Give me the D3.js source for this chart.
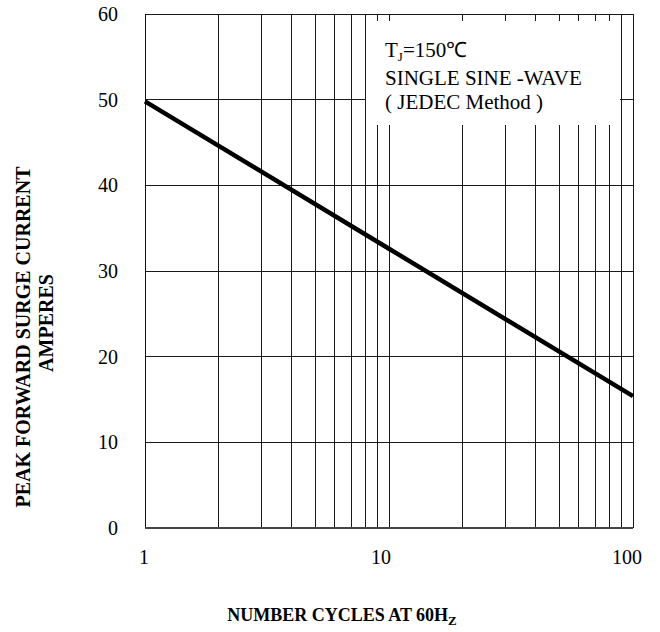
<!DOCTYPE html>
<html>
<head>
    <title>Peak forward surge current</title>
    <script src="https://cdn.jsdelivr.net/npm/d3@7"></script>
    <style>
        body { margin: 0; background: #fff; }
        text { font-family: "Liberation Serif", "Times New Roman", serif; fill: #000; }
    </style>
</head>
<body>
    <div id="chart"></div>
    <script type="text/javascript">
        // values
        var cycles = [1, 10, 100];
        var surgeAmps = [49.8, 32.6, 15.4];

        var yTicks = [0, 10, 20, 30, 40, 50, 60];
        var xLabels = [1, 10, 100];
        var legendLines = ["SINGLE SINE -WAVE", "( JEDEC Method )"];

        var width = 660;
        var height = 632;
        var margin = {top: 14, right: 27, bottom: 104, left: 145};
        var w = width - margin.left - margin.right;
        var h = height - margin.top - margin.bottom;

        var xScale = d3.scaleLog()
            .domain([1, 100])
            .range([0, w]);

        var yScale = d3.scaleLinear()
            .domain([0, 60])
            .range([h, 0]);

        var svg = d3.select("#chart").append("svg")
            .attr('width', width)
            .attr('height', height);

        var g = svg.append("g")
            .attr('transform', 'translate(' + margin.left + ',' + margin.top + ')');

        // vertical grid (log decades)
        g.append("g").selectAll("line")
            .data(xScale.ticks())
            .enter().append("line")
                .attr('x1', function(d) { return xScale(d); })
                .attr('x2', function(d) { return xScale(d); })
                .attr('y1', 0)
                .attr('y2', h)
                .attr('stroke', '#1a1a1a')
                .attr('stroke-width', 1)
                .attr('shape-rendering', 'crispEdges');

        // horizontal grid
        g.append("g").selectAll("line")
            .data(yTicks.slice(1))
            .enter().append("line")
                .attr('x1', 0)
                .attr('x2', w)
                .attr('y1', function(d) { return yScale(d); })
                .attr('y2', function(d) { return yScale(d); })
                .attr('stroke', '#1a1a1a')
                .attr('stroke-width', 1)
                .attr('shape-rendering', 'crispEdges');

        // axis lines
        g.append("line")
            .attr('x1', 0).attr('x2', 0)
            .attr('y1', 0).attr('y2', h)
            .attr('stroke', '#111')
            .attr('shape-rendering', 'crispEdges');
        g.append("line")
            .attr('x1', 0).attr('x2', w)
            .attr('y1', h).attr('y2', h)
            .attr('stroke', '#444')
            .attr('stroke-width', 2)
            .attr('shape-rendering', 'crispEdges');

        // legend box covers the grid
        var legend = g.append("g")
            .attr('transform', 'translate(' + (w - 267) + ',7)');
        legend.append("rect")
            .attr('width', 254)
            .attr('height', 104)
            .attr('fill', '#fff');
        var tj = legend.append("text")
            .attr('x', 19)
            .attr('y', 36)
            .style('font-size', '21px');
        tj.append("tspan").text("T");
        tj.append("tspan").text("J")
            .style('font-size', '13px')
            .attr('dy', 4);
        tj.append("tspan").text("=150\u2103")
            .attr('dy', -4);
        legend.selectAll("text.line")
            .data(legendLines)
            .enter().append("text")
                .attr('class', 'line')
                .attr('x', 19)
                .attr('y', function(d, i) { return 64 + i * 24; })
                .style('font-size', '21px')
                .text(function(d) { return d; });

        // curve
        var line = d3.line()
            .x(function(d) { return xScale(d[0]); })
            .y(function(d) { return yScale(d[1]); });
        g.append("path")
            .datum(d3.zip(cycles, surgeAmps))
            .attr('d', line)
            .attr('fill', 'none')
            .attr('stroke', '#000')
            .attr('stroke-width', 4.5);

        // tick labels
        g.append("g").selectAll("text")
            .data(yTicks)
            .enter().append("text")
                .attr('x', -27)
                .attr('y', function(d) { return yScale(d); })
                .attr('dy', '0.35em')
                .attr('text-anchor', 'end')
                .style('font-size', '20px')
                .text(function(d) { return d; });

        g.append("g").selectAll("text")
            .data(xLabels)
            .enter().append("text")
                .attr('x', function(d) { return xScale(d) - (d === 100 ? 6 : d === 10 ? 8 : 1); })
                .attr('y', h + 36)
                .attr('text-anchor', 'middle')
                .style('font-size', '20px')
                .text(function(d) { return d; });

        // axis titles
        var xt = svg.append("text")
            .attr('x', 342)
            .attr('y', 621)
            .attr('text-anchor', 'middle')
            .style('font-size', '18px')
            .style('font-weight', 'bold');
        xt.append("tspan").text("NUMBER CYCLES AT 60H");
        xt.append("tspan").text("Z")
            .style('font-size', '13px')
            .attr('dy', 4);

        var yTitle = [
            {text: "PEAK FORWARD SURGE CURRENT", x: 30, mid: 337},
            {text: "AMPERES", x: 53, mid: 323}
        ];
        svg.append("g").selectAll("text")
            .data(yTitle)
            .enter().append("text")
                .attr('transform', function(d) { return 'translate(' + d.x + ',' + d.mid + ') rotate(-90)'; })
                .attr('text-anchor', 'middle')
                .style('font-size', '20px')
                .style('font-weight', 'bold')
                .text(function(d) { return d.text; });
    </script>
</body>
</html>
